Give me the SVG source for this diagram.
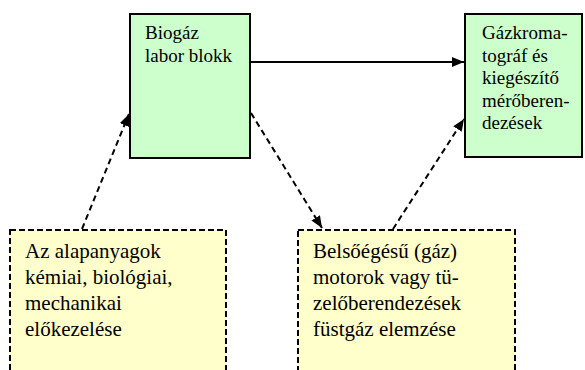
<svg xmlns="http://www.w3.org/2000/svg" width="585" height="370" viewBox="0 0 585 370">
<style>
.g{fill:#CCFFCC;stroke:#000;stroke-width:2}
.y{fill:#FFFFCC;stroke:#000;stroke-width:2;stroke-dasharray:6 3}
text{font-family:'Liberation Serif',serif}
.bt{font-size:19px}
.yt{font-size:21px}
.c{fill:none;stroke:#000;stroke-width:2}
.d{stroke-dasharray:6 4}
</style>
<defs>
<marker id="ah" viewBox="0 0 12 10" refX="12" refY="5" markerWidth="12" markerHeight="10" markerUnits="userSpaceOnUse" orient="auto">
<path d="M0,0 L12,5 L0,10 Z" fill="#000"/>
</marker>
</defs>
<rect width="585" height="370" fill="#fff"/>
<g id="biogaz">
<rect class="g" x="130" y="14" width="120" height="144"/>
<text class="bt" font-family="Liberation Serif, serif" x="145" y="39">Biogáz</text>
<text class="bt" font-family="Liberation Serif, serif" x="145" y="62">labor blokk</text>
</g>
<g id="gazkromatograf" font-family="Liberation Serif, serif">
<rect class="g" x="465" y="14" width="117" height="143"/>
<text class="bt" x="482" y="39">Gázkroma-</text>
<text class="bt" x="482" y="61.5">tográf és</text>
<text class="bt" x="482" y="84">kiegészítő</text>
<text class="bt" x="482" y="106.5">mérőberen-</text>
<text class="bt" x="482" y="129">dezések</text>
</g>
<g id="alapanyagok">
<rect class="y" x="10" y="230" width="216" height="160"/>
<text class="yt" x="25" y="258">Az alapanyagok</text>
<text class="yt" x="25" y="284">kémiai, biológiai,</text>
<text class="yt" x="25" y="310">mechanikai</text>
<text class="yt" x="25" y="336">előkezelése</text>
</g>
<g id="fustgaz">
<rect class="y" x="298" y="230" width="217" height="160"/>
<text class="yt" x="313" y="258">Belsőégésű (gáz)</text>
<text class="yt" x="313" y="284">motorok vagy tü-</text>
<text class="yt" x="313" y="310">zelőberendezések</text>
<text class="yt" x="313" y="336">füstgáz elemzése</text>
</g>
<g id="connectors">
<line class="c" x1="251" y1="62" x2="464" y2="62" marker-end="url(#ah)"/>
<line class="c d" x1="82" y1="229" x2="129" y2="114" marker-end="url(#ah)"/>
<line class="c d" x1="251" y1="113" x2="322" y2="228" marker-end="url(#ah)"/>
<line class="c d" x1="393" y1="229" x2="464" y2="119" marker-end="url(#ah)"/>
</g>
</svg>
